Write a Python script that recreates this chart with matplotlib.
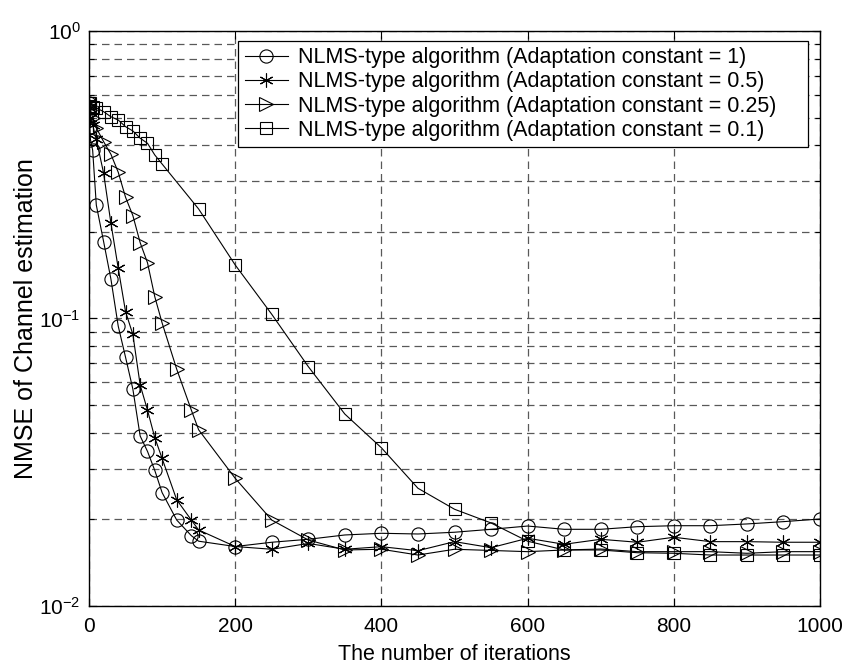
import matplotlib
matplotlib.use('Agg')
import matplotlib.pyplot as plt
from matplotlib.ticker import FixedLocator, LogLocator, NullFormatter

plt.rcParams['font.family'] = ['Liberation Sans', 'DejaVu Sans']
plt.rcParams['mathtext.fontset'] = 'custom'
plt.rcParams['mathtext.rm'] = 'Liberation Sans'

# iterations (circle / star / triangle curves share these)
iters = [0, 1, 2, 5, 10, 20, 30, 40, 50, 60, 70, 80, 90, 100, 120, 140, 150,
         200, 250, 300, 350, 400, 450, 500, 550, 600, 650, 700, 750, 800,
         850, 900, 950, 1000]
iters_sq = [0, 1, 2, 5, 10, 20, 30, 40, 50, 60, 70, 80, 90, 100, 150,
            200, 250, 300, 350, 400, 450, 500, 550, 600, 650, 700, 750, 800,
            850, 900, 950, 1000]

nmse_mu1 = [0.56, 0.463, 0.418, 0.385, 0.248, 0.185, 0.137, 0.094, 0.0733,
            0.0568, 0.039, 0.0345, 0.0296, 0.0248, 0.0199, 0.01756, 0.0168,
            0.0161, 0.01666, 0.01706, 0.01766, 0.0179, 0.0178, 0.01805,
            0.01848, 0.01897, 0.01848, 0.01848, 0.01887, 0.01902, 0.01902,
            0.01929, 0.01965, 0.02007]
nmse_mu05 = [0.56, 0.54, 0.50, 0.47, 0.42, 0.32, 0.2143, 0.1495, 0.1056,
             0.088, 0.0587, 0.048, 0.0385, 0.0326, 0.0234, 0.0199, 0.01838,
             0.0161, 0.01575, 0.0165, 0.01575, 0.01608, 0.01557, 0.01674,
             0.01595, 0.0172, 0.01639, 0.01706, 0.01666, 0.01734, 0.01674,
             0.01674, 0.01666, 0.01666]
nmse_mu025 = [0.56, 0.55, 0.53, 0.50, 0.46, 0.412, 0.3725, 0.3225, 0.264,
              0.228, 0.1835, 0.1563, 0.119, 0.0965, 0.0666, 0.048, 0.041,
              0.0278, 0.0199, 0.01696, 0.01566, 0.01575, 0.01504, 0.01575,
              0.0156, 0.01545, 0.01566, 0.01578, 0.01545, 0.01545, 0.01545,
              0.01525, 0.01545, 0.01545]
nmse_mu01 = [0.56, 0.56, 0.55, 0.545, 0.54, 0.524, 0.503, 0.49, 0.4647,
             0.449, 0.4236, 0.4068, 0.3704, 0.3446, 0.2403, 0.1535, 0.1034,
             0.068, 0.0465, 0.0355, 0.02567, 0.0217, 0.01944, 0.0168,
             0.01566, 0.01566, 0.01532, 0.01525, 0.01504, 0.01504, 0.01504,
             0.01504]

labels = ['NLMS-type algorithm (Adaptation constant = 1)',
          'NLMS-type algorithm (Adaptation constant = 0.5)',
          'NLMS-type algorithm (Adaptation constant = 0.25)',
          'NLMS-type algorithm (Adaptation constant = 0.1)']

fig = plt.figure(figsize=(8.46, 6.69), dpi=100)
ax = fig.add_axes([0.1052, 0.0942, 0.8641, 0.8595])

style = dict(color='black', lw=0.8, mfc='none', mec='black', mew=0.8)
ax.plot(iters, nmse_mu1, marker='o', ms=9.5, label=labels[0], **style)
ax.plot(iters, nmse_mu05, marker=(6, 2, 0), ms=10, label=labels[1], **style)
ax.plot(iters, nmse_mu025, marker='>', ms=9.5, label=labels[2], **style)
ax.plot(iters_sq, nmse_mu01, marker='s', ms=8.5, label=labels[3], **style)

ax.set_yscale('log')
ax.set_xlim(0, 1000)
ax.set_ylim(1e-2, 1)
ax.xaxis.set_major_locator(FixedLocator([0, 200, 400, 600, 800, 1000]))
ax.yaxis.set_major_locator(FixedLocator([1e-2, 1e-1, 1]))
ax.set_yticklabels([r'$\mathregular{10^{-2}}$', r'$\mathregular{10^{-1}}$',
                    r'$\mathregular{10^{0}}$'])
ax.yaxis.set_minor_locator(LogLocator(base=10, subs=range(2, 10)))
ax.yaxis.set_minor_formatter(NullFormatter())

ax.tick_params(which='both', direction='in', top=True, right=True,
               labelsize=15, width=0.8)
ax.tick_params(which='major', length=6)
ax.tick_params(which='minor', length=3.5)
ax.tick_params(axis='x', pad=8)
ax.tick_params(axis='y', pad=6)

grid_kw = dict(color='0.35', lw=0.9, linestyle=(0, (6, 4)))
ax.grid(True, which='major', axis='x', **grid_kw)
ax.grid(True, which='both', axis='y', **grid_kw)
for s in ax.spines.values():
    s.set_linewidth(1.0)

ax.set_xlabel('The number of iterations', fontsize=15.5, labelpad=6)
ax.set_ylabel('NMSE of Channel estimation', fontsize=18)
ax.yaxis.set_label_coords(-0.07, 0.5)

leg = ax.legend(loc='upper left', bbox_to_anchor=(0.204, 0.797, 0.7796, 0.186),
                mode='expand', borderaxespad=0, fontsize=15.5, fancybox=False,
                framealpha=1, edgecolor='black', handlelength=2.0,
                labelspacing=0.15, borderpad=0.3, handletextpad=0.5)
leg.get_frame().set_linewidth(0.9)

fig.savefig('out.png', dpi=100)
